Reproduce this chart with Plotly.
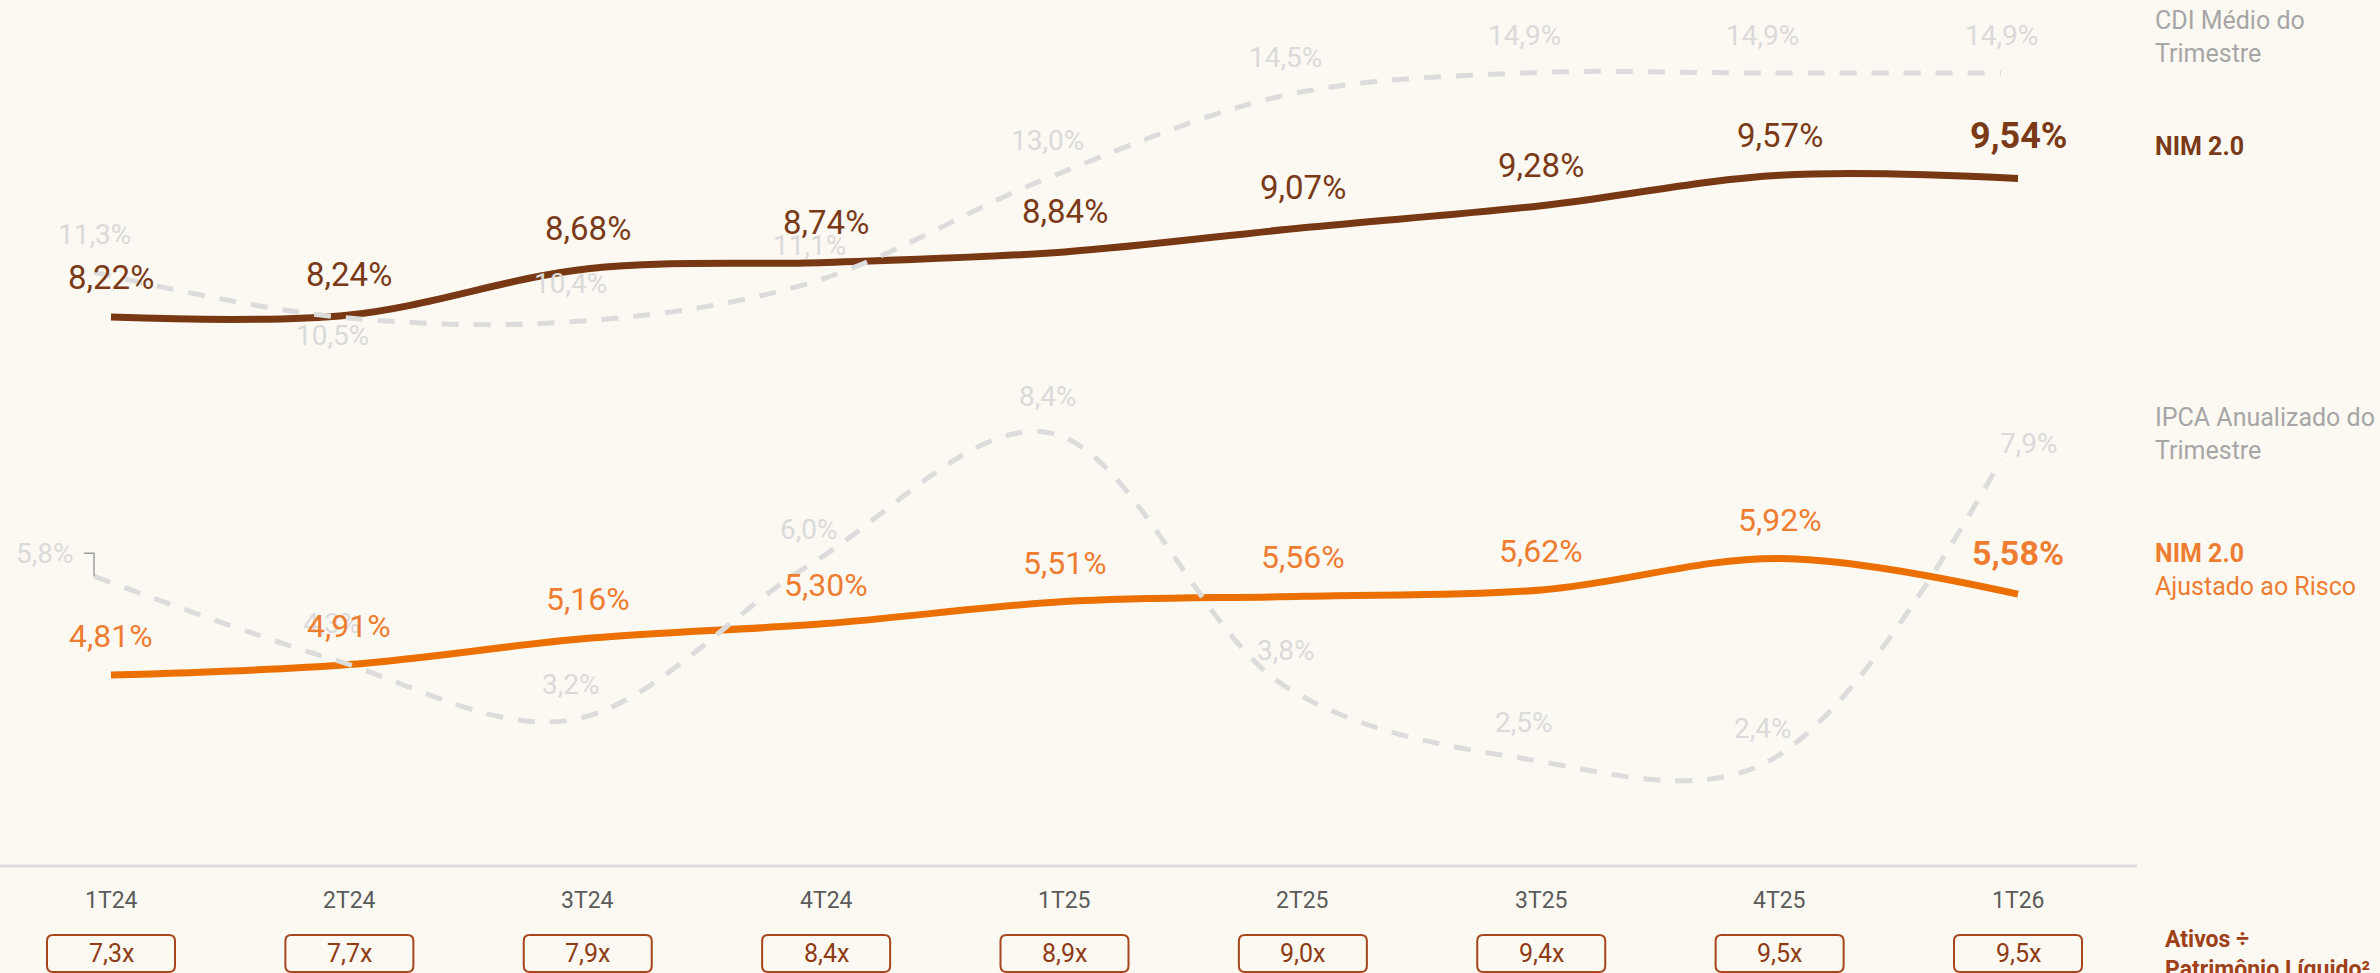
import plotly.graph_objects as go

# ---------------- data ----------------
quarters = ["1T24", "2T24", "3T24", "4T24", "1T25", "2T25", "3T25", "4T25", "1T26"]
nim = [8.22, 8.24, 8.68, 8.74, 8.84, 9.07, 9.28, 9.57, 9.54]
nim_risk = [4.81, 4.91, 5.16, 5.30, 5.51, 5.56, 5.62, 5.92, 5.58]
cdi = [11.3, 10.5, 10.4, 11.1, 13.0, 14.5, 14.9, 14.9, 14.9]
ipca = [5.8, 4.3, 3.2, 6.0, 8.4, 3.8, 2.5, 2.4, 7.9]
leverage = ["7,3x", "7,7x", "7,9x", "8,4x", "8,9x", "9,0x", "9,4x", "9,5x", "9,5x"]

# ---------------- style ----------------
W, H = 2380, 973
BG = "#FCF9F2"
BROWN = "#773813"
BROWN_TXT = "#7A3A17"
ORANGE = "#EC7000"
ORANGE_TXT = "#EE7D31"
GRAY_DASH = "#DCDCDC"
GRAY_LBL = "#DADADA"
LEGEND_GRAY = "#A6A6A6"
BOX = "#A5461D"
BOX_TXT = "#8E3B16"
FONT = "Roboto, 'Open Sans', sans-serif"

X0_PX = 111.0
STEP = 238.375
x_range = [-X0_PX / STEP, (W - X0_PX) / STEP]
shift = 17.0 / STEP
x2_range = [x_range[0] + shift, x_range[1] + shift]

# primary y: 105 px per point, 8.22 at px 317
y_range = [8.22 - (H - 317) / 105.0, 8.22 + 317 / 105.0]
# secondary y: 55.3 px per point, 14.9 at px 73
y2_range = [14.9 - (H - 73) / 55.3, 14.9 + 73 / 55.3]

xi = list(range(len(quarters)))


def pct(v, d):
    return (f"{v:.{d}f}").replace(".", ",") + "%"


fig = go.Figure()

# dashed reference lines (drawn first, underneath)
for series in (cdi, ipca):
    fig.add_trace(go.Scatter(x=xi, y=series, xaxis="x2", yaxis="y2", mode="lines",
                             line=dict(color=GRAY_DASH, width=5, dash="17px,15px",
                                       shape="spline", smoothing=1.0),
                             hoverinfo="skip", showlegend=False))
# main lines
fig.add_trace(go.Scatter(x=xi, y=nim, mode="lines",
                         line=dict(color=BROWN, width=7, shape="spline", smoothing=1.0),
                         hoverinfo="skip", showlegend=False))
fig.add_trace(go.Scatter(x=xi, y=nim_risk, mode="lines",
                         line=dict(color=ORANGE, width=7, shape="spline", smoothing=1.0),
                         hoverinfo="skip", showlegend=False))

ann = []


def add_ann(**kw):
    kw.setdefault("showarrow", False)
    kw.setdefault("yanchor", "middle")
    kw.setdefault("xanchor", "center")
    ann.append(kw)


# gray labels first
for i, v in enumerate(cdi):
    ys = 38
    if i == 1:
        ys = -19
    add_ann(x=i, y=v, xref="x2", yref="y2", text=pct(v, 1), yshift=ys,
            font=dict(family=FONT, size=28, color=GRAY_LBL))
for i, v in enumerate(ipca):
    ys, xs = 36, 0
    if i == 0:
        ys, xs = 23, -49
    if i == len(ipca) - 1:
        ys, xs = 17, 28
    add_ann(x=i, y=v, xref="x2", yref="y2", text=pct(v, 1), yshift=ys, xshift=xs,
            font=dict(family=FONT, size=28, color=GRAY_LBL))

# main labels
n = len(quarters)
for i, v in enumerate(nim):
    last = i == n - 1
    add_ann(x=i, y=v, xref="x", yref="y",
            text=(f"<b>{pct(v, 2)}</b>" if last else pct(v, 2)),
            yshift=42 if last else 40,
            font=dict(family=FONT, size=36 if last else 33, color=BROWN_TXT))
for i, v in enumerate(nim_risk):
    last = i == n - 1
    add_ann(x=i, y=v, xref="x", yref="y",
            text=(f"<b>{pct(v, 2)}</b>" if last else pct(v, 2)),
            yshift=41 if last else 39,
            font=dict(family=FONT, size=34 if last else 32, color=ORANGE_TXT))

# category labels and leverage boxes
shapes = []
half_w = 64.0 / STEP
rx = 6.0 / STEP
box_top = 1 - 935.0 / H
box_bot = 1 - 972.0 / H
ry = 6.0 / H
for i, q in enumerate(quarters):
    add_ann(x=i, y=1 - 900.0 / H, xref="x", yref="paper", text=q,
            font=dict(family=FONT, size=23, color="#5B5B5B"))
    add_ann(x=i, y=1 - 953.0 / H, xref="x", yref="paper", text=leverage[i],
            font=dict(family=FONT, size=25, color=BOX_TXT))
    x0, x1 = i - half_w, i + half_w
    path = (f"M {x0 + rx},{box_top} L {x1 - rx},{box_top} Q {x1},{box_top} {x1},{box_top - ry} "
            f"L {x1},{box_bot + ry} Q {x1},{box_bot} {x1 - rx},{box_bot} "
            f"L {x0 + rx},{box_bot} Q {x0},{box_bot} {x0},{box_bot + ry} "
            f"L {x0},{box_top - ry} Q {x0},{box_top} {x0 + rx},{box_top} Z")
    shapes.append(dict(type="path", xref="x", yref="paper", path=path,
                       line=dict(color=BOX, width=2), fillcolor=BG, layer="below"))

# separator
shapes.append(dict(type="line", xref="paper", yref="paper", x0=0, x1=2137.0 / W,
                   y0=1 - 866.0 / H, y1=1 - 866.0 / H, line=dict(color="#DCDCDC", width=3)))

# leader for first IPCA label
lx = 10.0 / STEP
ly = 23.0 / 55.3
shapes.append(dict(type="path", xref="x2", yref="y2",
                   path=f"M {-lx},{ipca[0] + ly} L 0,{ipca[0] + ly} L 0,{ipca[0]}",
                   line=dict(color="#A0A0A0", width=1.5)))

# right-side legend texts
LX = 2153.0 / W
add_ann(x=LX, y=1 - 37.0 / H, xref="paper", yref="paper", xanchor="left",
        text="CDI Médio do<br>Trimestre", align="left",
        font=dict(family=FONT, size=25, color=LEGEND_GRAY))
add_ann(x=LX, y=1 - 146.0 / H, xref="paper", yref="paper", xanchor="left",
        text="<b>NIM 2.0</b>", align="left",
        font=dict(family=FONT, size=25, color=BROWN_TXT))
add_ann(x=LX, y=1 - 434.0 / H, xref="paper", yref="paper", xanchor="left",
        text="IPCA Anualizado do<br>Trimestre", align="left",
        font=dict(family=FONT, size=25, color=LEGEND_GRAY))
add_ann(x=LX, y=1 - 570.0 / H, xref="paper", yref="paper", xanchor="left",
        text="<b>NIM 2.0</b><br>Ajustado ao Risco", align="left",
        font=dict(family=FONT, size=25, color=ORANGE_TXT))
add_ann(x=2163.0 / W, y=1 - 954.0 / H, xref="paper", yref="paper", xanchor="left",
        text="<b>Ativos ÷<br>Patrimônio Líquido²</b>", align="left",
        font=dict(family=FONT, size=23, color="#9E4119"))

axis_off = dict(visible=False, showgrid=False, zeroline=False, fixedrange=True)
fig.update_layout(
    width=W, height=H,
    margin=dict(l=0, r=0, t=0, b=0, pad=0),
    paper_bgcolor=BG, plot_bgcolor=BG,
    xaxis=dict(range=x_range, **axis_off),
    xaxis2=dict(range=x2_range, overlaying="x", **axis_off),
    yaxis=dict(range=y_range, **axis_off),
    yaxis2=dict(range=y2_range, overlaying="y", **axis_off),
    annotations=ann, shapes=shapes,
    showlegend=False, hovermode=False,
)

fig.write_html("out.html", include_plotlyjs=True,
               config={"displayModeBar": False, "staticPlot": True},
               post_script="document.body.style.margin='0px';document.body.style.overflow='hidden';")
